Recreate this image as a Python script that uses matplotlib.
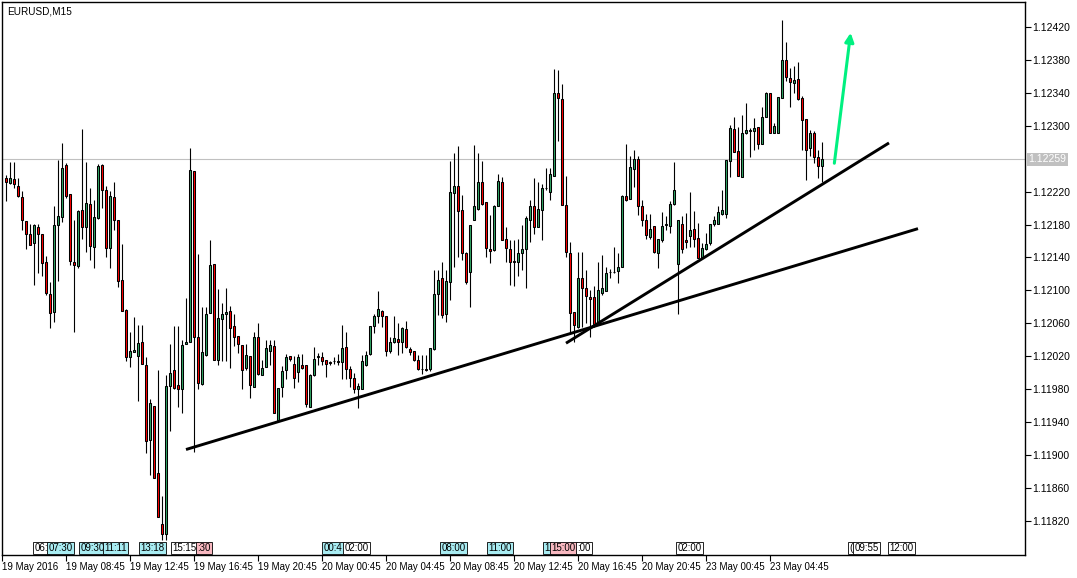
import matplotlib
matplotlib.use('Agg')
import matplotlib.pyplot as plt
from matplotlib.transforms import blended_transform_factory
import numpy as np

# EURUSD M15 candles, prices in points (1e-5)
opens = [112237, 112230, 112235, 112227, 112213, 112184, 112168, 112157, 112177, 112169,
         112134, 112096, 112074, 112180, 112189, 112252, 112217, 112135, 112130, 112198,
         112177, 112205, 112153, 112188, 112252, 112222, 112152, 112213, 112185, 112113,
         112076, 112019, 112025, 112021, 112037, 112010, 111918, 111960, 111878, 111817,
         111805, 111984, 112003, 111985, 111980, 112035, 112038, 112245, 112043, 111987,
         112022, 112073, 112132, 112016, 112065, 112072, 112075, 112057, 112045, 112034,
         112006, 112021, 111983, 112044, 111998, 112007, 112027, 112033, 111943, 111983,
         112004, 112020, 112011, 112001, 112010, 112010, 111959, 111998, 112019, 112019,
         112016, 112013, 112014, 112013, 112013, 112031, 112005, 111994, 111980, 111980,
         112010, 112023, 112057, 112069, 112075, 112069, 112027, 112038, 112041, 112037,
         112053, 112029, 112026, 112016, 112005, 112005, 112005, 112029, 112096, 112115,
         112072, 112110, 112218, 112227, 112198, 112145, 112122, 112186, 112199, 112232,
         112207, 112150, 112149, 112203, 112232, 112162, 112150, 112136, 112135, 112146,
         112150, 112186, 112202, 112177, 112198, 112224, 112219, 112239, 112339, 112332,
         112204, 112146, 112074, 112056, 112115, 112103, 112092, 112092, 112060, 112097,
         112099, 112122, 112122, 112123, 112129, 112215, 112211, 112247, 112260, 112203,
         112186, 112165, 112178, 112146, 112161, 112179, 112178, 112205, 112132, 112181,
         112161, 112166, 112175, 112164, 112139, 112150, 112158, 112181, 112181, 112193,
         112193, 112257, 112296, 112269, 112238, 112291, 112295, 112294, 112298, 112278,
         112311, 112339, 112291, 112291, 112334, 112380, 112358, 112352, 112356, 112334,
         112308, 112273, 112291, 112262, 112251]
highs = [112240, 112256, 112256, 112236, 112221, 112184, 112181, 112181, 112181, 112169,
         112142, 112110, 112203, 112258, 112279, 112255, 112217, 112185, 112198, 112296,
         112256, 112224, 112210, 112254, 112254, 112227, 112221, 112231, 112185, 112156,
         112078, 112049, 112068, 112058, 112058, 112019, 111968, 111960, 112004, 111851,
         111998, 112035, 112057, 112057, 112040, 112091, 112273, 112245, 112144, 112080,
         112080, 112161, 112132, 112102, 112085, 112103, 112081, 112072, 112045, 112034,
         112035, 112021, 112050, 112060, 112016, 112040, 112040, 112040, 111982, 112008,
         112023, 112021, 112021, 112023, 112023, 112010, 111999, 112031, 112024, 112025,
         112016, 112015, 112019, 112023, 112058, 112050, 112008, 112000, 111988, 112022,
         112026, 112057, 112071, 112099, 112076, 112069, 112044, 112069, 112061, 112056,
         112063, 112031, 112026, 112022, 112022, 112022, 112030, 112125, 112125, 112135,
         112125, 112257, 112267, 112275, 112216, 112147, 112180, 112276, 112267, 112257,
         112207, 112192, 112204, 112241, 112238, 112177, 112161, 112161, 112162, 112180,
         112190, 112210, 112237, 112231, 112229, 112248, 112248, 112369, 112368, 112350,
         112239, 112159, 112074, 112147, 112147, 112125, 112101, 112105, 112134, 112143,
         112129, 112126, 112153, 112146, 112216, 112278, 112263, 112271, 112263, 112210,
         112193, 112193, 112178, 112163, 112195, 112190, 112208, 112256, 112186, 112190,
         112194, 112220, 112196, 112182, 112157, 112170, 112181, 112190, 112202, 112222,
         112258, 112301, 112311, 112298, 112313, 112328, 112297, 112309, 112298, 112323,
         112341, 112339, 112303, 112335, 112428, 112401, 112370, 112372, 112377, 112336,
         112308, 112295, 112294, 112271, 112280]
lows = [112208, 112229, 112224, 112213, 112173, 112150, 112155, 112107, 112121, 112117,
        112094, 112055, 112062, 112111, 112183, 112212, 112131, 112050, 112127, 112163,
        112147, 112137, 112127, 112187, 112200, 112140, 112127, 112173, 112104, 112075,
        112015, 112007, 112025, 111966, 112011, 111903, 111876, 111873, 111825, 111797,
        111797, 111930, 111980, 111958, 111951, 112035, 112038, 111904, 111981, 111985,
        112021, 112073, 112016, 112010, 112015, 112015, 112006, 112032, 112024, 111980,
        112004, 111969, 111983, 111998, 111998, 112007, 112009, 111951, 111942, 111971,
        111993, 112015, 111982, 111989, 112005, 111959, 111959, 111996, 112010, 112009,
        111995, 112009, 112011, 112010, 111993, 111993, 111983, 111975, 111957, 111980,
        112008, 112022, 112048, 112061, 112056, 112020, 112024, 112036, 112022, 112024,
        112030, 112022, 112014, 112004, 111999, 112002, 112002, 112028, 112070, 112066,
        112062, 112088, 112129, 112141, 112137, 112108, 112080, 112185, 112198, 112204,
        112140, 112133, 112148, 112203, 112161, 112134, 112107, 112105, 112117, 112125,
        112103, 112159, 112169, 112177, 112161, 112222, 112210, 112239, 112281, 112204,
        112141, 112048, 112038, 112054, 112056, 112060, 112044, 112056, 112058, 112095,
        112099, 112115, 112121, 112109, 112129, 112209, 112211, 112225, 112192, 112178,
        112162, 112162, 112146, 112127, 112159, 112173, 112170, 112204, 112072, 112145,
        112151, 112153, 112153, 112139, 112138, 112149, 112155, 112178, 112181, 112192,
        112188, 112238, 112268, 112239, 112238, 112290, 112262, 112270, 112272, 112278,
        112311, 112291, 112291, 112291, 112334, 112354, 112322, 112340, 112331, 112271,
        112234, 112263, 112255, 112237, 112232]
closes = [112231, 112237, 112229, 112214, 112185, 112168, 112155, 112179, 112169, 112133,
          112097, 112073, 112180, 112190, 112249, 112215, 112136, 112131, 112197, 112177,
          112206, 112154, 112189, 112251, 112222, 112151, 112215, 112186, 112111, 112075,
          112019, 112027, 112028, 112036, 112011, 111917, 111963, 111873, 111825, 111805,
          111984, 112000, 111982, 111980, 112034, 112038, 112246, 112044, 111988, 112025,
          112072, 112131, 112016, 112066, 112072, 112074, 112055, 112044, 112035, 112004,
          112022, 111985, 112043, 111999, 112006, 112030, 112034, 111951, 111982, 112002,
          112019, 112017, 111994, 112019, 112006, 111962, 111998, 112017, 112020, 112015,
          112011, 112012, 112014, 112015, 112030, 112005, 111994, 111980, 111984, 112014,
          112022, 112057, 112069, 112077, 112069, 112026, 112038, 112042, 112037, 112054,
          112031, 112025, 112016, 112005, 112005, 112004, 112030, 112096, 112113, 112070,
          112112, 112219, 112227, 112196, 112145, 112110, 112180, 112202, 112231, 112205,
          112151, 112148, 112203, 112233, 112161, 112151, 112135, 112135, 112145, 112150,
          112188, 112203, 112177, 112199, 112224, 112224, 112241, 112340, 112333, 112204,
          112147, 112073, 112058, 112115, 112103, 112093, 112090, 112059, 112101, 112103,
          112121, 112122, 112122, 112128, 112215, 112210, 112250, 112259, 112203, 112186,
          112167, 112174, 112147, 112162, 112178, 112181, 112205, 112222, 112186, 112150,
          112159, 112173, 112162, 112139, 112151, 112156, 112181, 112185, 112195, 112198,
          112258, 112297, 112268, 112239, 112291, 112295, 112294, 112297, 112278, 112311,
          112339, 112291, 112300, 112335, 112380, 112359, 112353, 112355, 112332, 112307,
          112270, 112291, 112262, 112251, 112259]

current_price = 1.12259
symbol = "EURUSD,M15"

time_labels = ['19 May 2016', '19 May 08:45', '19 May 12:45', '19 May 16:45', '19 May 20:45',
               '20 May 00:45', '20 May 04:45', '20 May 08:45', '20 May 12:45', '20 May 16:45',
               '20 May 20:45', '23 May 00:45', '23 May 04:45']
time_label_bars = [-1, 15, 31, 47, 63, 79, 95, 111, 127, 143, 159, 175, 191]

# 1.12260 is hidden behind the current price label
price_ticks = [1.11820, 1.11860, 1.11900, 1.11940, 1.11980, 1.12020, 1.12060,
               1.12100, 1.12140, 1.12180, 1.12220, 1.12300, 1.12340,
               1.12380, 1.12420]

# trend lines drawn by hand on the chart (bar index, price)
trend_a_bars = [45, 228]
trend_a_prices = [1.11907, 1.12175]
trend_b_bars = [140, 220.75]
trend_b_prices = [1.12036, 1.12279]
arrow_bars = [207, 211.25]
arrow_prices = [1.12251, 1.12416]

# calendar event markers along the bottom
event_labels = ['06:', '07:30', '09:30', '11:11', '13:18', '15:15', ':30', '00:4', '02:00',
                '08:00', '11:00', '1', '15:00', ':00', '02:00', '(', '09:55', '12:00']
event_bars = [6.75, 10.25, 18.25, 24.25, 33.25, 41.25, 47.5, 79, 84.25,
              108.5, 120.25, 134.25, 136, 142.5, 167.5, 210.5, 211.75, 220.5]
event_kind = ['none', 'low', 'low', 'low', 'low', 'none', 'high', 'low', 'none',
              'low', 'low', 'low', 'high', 'none', 'none', 'none', 'none', 'none']

kind_color = {'none': 'white', 'low': '#a8ecf2', 'high': '#f8b8c0'}

o = np.array(opens) / 1e5
h = np.array(highs) / 1e5
l = np.array(lows) / 1e5
c = np.array(closes) / 1e5
k = np.arange(len(o))

plt.rcParams['font.family'] = ['Liberation Sans', 'DejaVu Sans']

fig = plt.figure(figsize=(10.77, 5.78), dpi=100)
ax = fig.add_axes([2 / 1077, 23 / 578, 1023 / 1077, 553 / 578])

ax.axhline(current_price, color='#c0c0c0', lw=0.8, zorder=1)

up = c >= o
ax.vlines(k, l, h, color='black', lw=0.8, zorder=2)
ax.bar(k, np.abs(c - o), bottom=np.minimum(o, c), width=0.72,
       color=np.where(up, '#2fa463', '#ff0000'), edgecolor='black',
       linewidth=0.75, zorder=3)

ax.plot(trend_a_bars, trend_a_prices, color='black', lw=2.1, solid_capstyle='butt', zorder=4)
ax.plot(trend_b_bars, trend_b_prices, color='black', lw=2.1, solid_capstyle='butt', zorder=4)
ax.annotate('', xy=(arrow_bars[1], arrow_prices[1]), xytext=(arrow_bars[0], arrow_prices[0]),
            arrowprops=dict(arrowstyle='-|>', color='#00f080', lw=2.2, mutation_scale=13),
            zorder=5)

trans = blended_transform_factory(ax.transData, ax.transAxes)
for lab, pos, kind in zip(event_labels, event_bars, event_kind):
    ax.text(pos + 0.4, 0.013, lab, transform=trans, fontsize=7, ha='left', va='center',
            bbox=dict(boxstyle='square,pad=0.12', facecolor=kind_color[kind],
                      edgecolor='black', linewidth=0.6), zorder=6)

ax.text(5 / 1023, 1 - 9 / 553, symbol, transform=ax.transAxes, fontsize=7.2,
        ha='left', va='center')

ax.set_xlim(-1, 254.75)
ax.set_ylim(1.11779, 1.12450)

ax.set_xticks(time_label_bars)
ax.set_xticklabels(time_labels, ha='left')
ax.tick_params(axis='x', direction='out', length=4, labelsize=7, pad=1)

ax.yaxis.tick_right()
ax.set_yticks(price_ticks)
ax.set_yticklabels(['%.5f' % t for t in price_ticks])
ax.tick_params(axis='y', direction='out', length=4, labelsize=7.5, pad=1.5)

ax.annotate('%.5f' % current_price, xy=(1.0, current_price),
            xycoords=('axes fraction', 'data'), xytext=(2.5, 0), textcoords='offset points',
            fontsize=7.5, color='white', va='center', ha='left',
            bbox=dict(boxstyle='square,pad=0.15', facecolor='#c0c0c0', edgecolor='none'))

for s in ax.spines.values():
    s.set_linewidth(1.0)
    s.set_color('black')

fig.savefig('out.png', dpi=100)
